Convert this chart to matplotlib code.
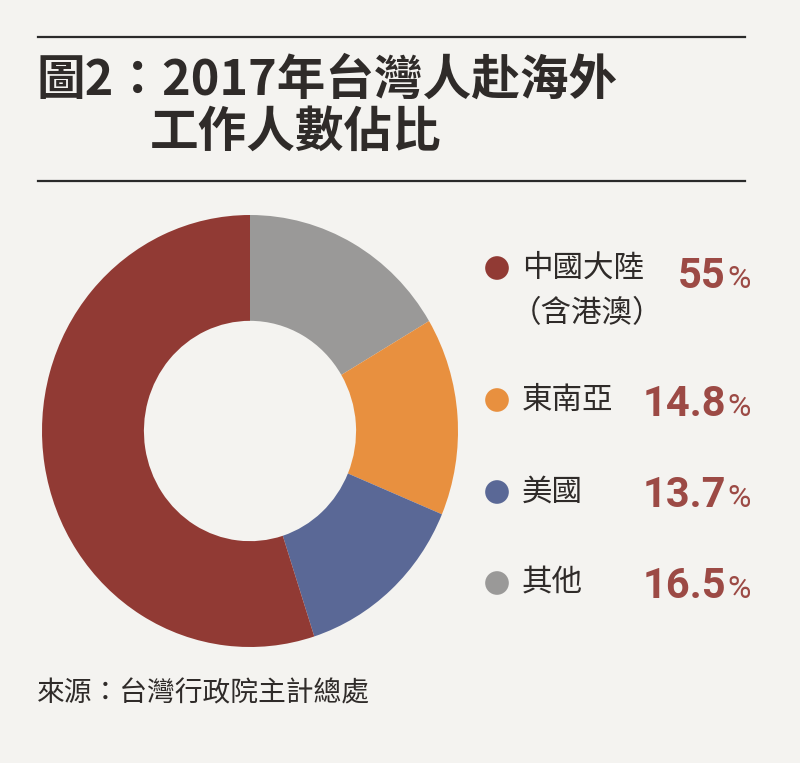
import matplotlib
matplotlib.use("Agg")
import matplotlib.pyplot as plt

plt.rcParams['font.family'] = ['Noto Sans CJK TC', 'DejaVu Sans']

# ---- data ----
categories = ["其他", "東南亞", "美國", "中國大陸"]
values = [16.5, 14.8, 13.7, 55.0]
colors = ["#9a9998", "#e8903f", "#5a6896", "#913a34"]

legend_names = ["中國大陸\n（含港澳）", "東南亞", "美國", "其他"]
legend_values = [55.0, 14.8, 13.7, 16.5]
legend_value_labels = ["55", "14.8", "13.7", "16.5"]
legend_colors = ["#913a34", "#e8903f", "#5a6896", "#9a9998"]

title_line1 = "圖2：2017年台灣人赴海外"
title_line2 = "工作人數佔比"
source = "來源：台灣行政院主計總處"

W, H = 800, 763
bg = "#f4f3f0"
txt = "#2f2b29"
pct_col = "#9c4a45"

fig = plt.figure(figsize=(W / 100, H / 100), dpi=100)
fig.patch.set_facecolor(bg)

# overlay axes in pixel coordinates
ov = fig.add_axes([0, 0, 1, 1])
ov.set_xlim(0, W)
ov.set_ylim(H, 0)
ov.axis("off")
ov.patch.set_alpha(0)

# rules
ov.plot([38, 745], [37, 37], color="#2a2a2a", lw=1.6)
ov.plot([38, 745], [181, 181], color="#2a2a2a", lw=1.6)

# title
ov.text(36, 80, title_line1, fontsize=35, fontweight="bold", color=txt,
        va="center", ha="left")
ov.text(150, 132, title_line2, fontsize=35, fontweight="bold", color=txt,
        va="center", ha="left")

# donut
cx, cy, rx, ry = 250, 431, 208, 216
ax = fig.add_axes([(cx - rx) / W, (H - cy - ry) / H, 2 * rx / W, 2 * ry / H])
ax.pie(values, colors=colors, startangle=90, counterclock=False,
       wedgeprops=dict(width=0.49, edgecolor="none"), radius=1.0)
ax.set_xlim(-1, 1)
ax.set_ylim(-1, 1)
ax.set_aspect("auto")
ax.axis("off")

# legend
ys = [268, 400, 492, 583]
num_base = [288, 416, 507, 598]
for name, lab, col, y, yb in zip(legend_names, legend_value_labels,
                                  legend_colors, ys, num_base):
    ov.scatter([497], [y], s=290, color=col, edgecolor="none", zorder=3)
    lines = name.split("\n")
    ov.text(522, y, lines[0], fontsize=22, color=txt, va="center", ha="left")
    if len(lines) > 1:
        ov.text(511, y + 46, lines[1], fontsize=22, color=txt,
                va="center", ha="left")
    ov.text(726, yb, lab, fontsize=30, fontweight="semibold", color=pct_col,
            family=["Roboto", "DejaVu Sans"], va="baseline", ha="right")
    ov.text(727, yb, "%", fontsize=23, color=pct_col,
            family=["Roboto", "DejaVu Sans"], va="baseline", ha="left")

# source
ov.text(37, 693, source, fontsize=20, color=txt, va="center", ha="left")

fig.savefig("out.png", dpi=100, facecolor=bg)
